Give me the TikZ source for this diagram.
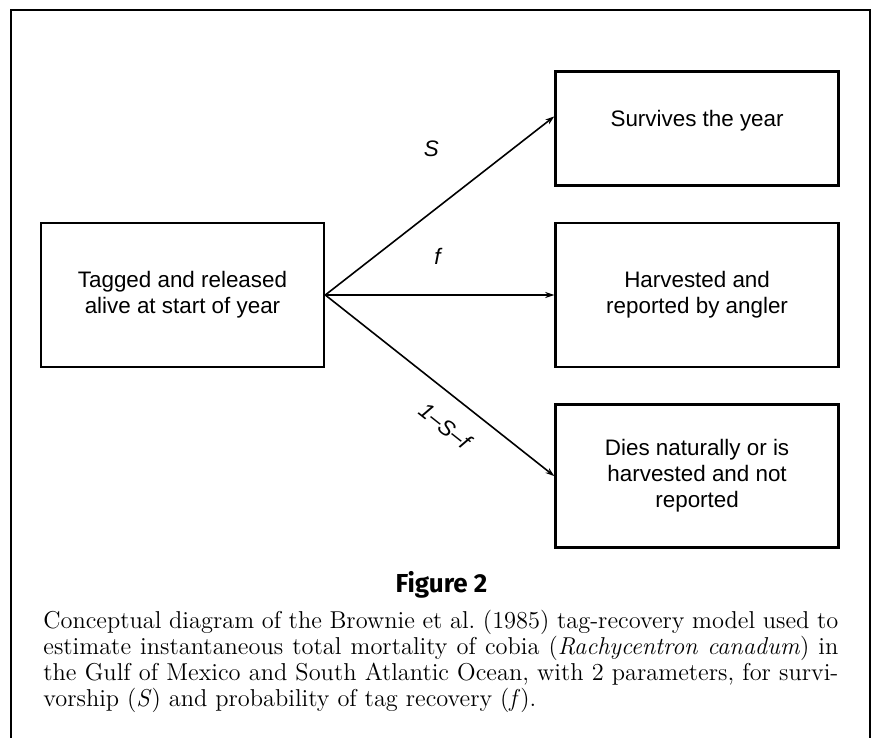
\documentclass[tikz,border=0pt]{standalone}
\usepackage{fontspec}
\newfontfamily\boxfont{Liberation Sans}
\newfontfamily\titlefont{Fira Sans}
\usepackage{tikz}
\usetikzlibrary{arrows.meta,positioning}

\begin{document}
\begin{tikzpicture}[
  x=0.5pt,y=-0.5pt,
  node distance=17.5pt and 114.5pt,
  box/.style={draw,line width=1.3pt,minimum width=141.5pt,inner sep=0pt,align=center,font=\boxfont\fontsize{11.2}{13}\selectfont},
  arr/.style={-{Stealth[length=4.5pt,width=3pt]},line width=0.8pt},
  lbl/.style={inner sep=0pt,font=\boxfont\itshape\fontsize{11.2}{13}\selectfont}
]
\useasboundingbox (0,0) rectangle (874,738);
\draw[line width=1.3pt] (11,738) -- (11,10) -- (870,10) -- (870,738);
\node[box,minimum height=72pt] (tag) at (182.5,295) {Tagged and released\\alive at start of year};
\node[box,minimum height=72pt,right=of tag] (harv) {Harvested and\\reported by angler};
\node[box,minimum height=57pt,text depth=10.3pt,above=of harv] (surv) {Survives the year};
\node[box,minimum height=71.5pt,below=of harv] (dies) {Dies naturally or is\\harvested and not\\reported};
\draw[arr] (tag.east) -- ([yshift=6pt]surv.west) node[lbl,pos=.463,above=27.5pt] (lsurv) {S};
\draw[arr] (tag.east) -- (harv.west) node[lbl,pos=.49,above=15pt] (lharv) {f};
\draw[arr] (tag.east) -- (dies.west) node[lbl,pos=.6,sloped,below=9.5pt] (ldies) {1\textendash S\textendash f};
\node[anchor=base,font=\titlefont\bfseries\fontsize{13}{15}\selectfont] (fig) at (441.5,592) {Figure 2};
\node[anchor=base west,inner sep=0pt,text width=397.5pt,align=justify,font=\fontsize{12.2}{13.15}\selectfont] (cap) at (43,628)
  {Conceptual diagram of the Brownie et al.\ (1985) tag-recovery model used to\linebreak
   estimate instantaneous total mortality of cobia (\textit{Rachycentron canadum}) in\linebreak
   the Gulf of Mexico and South Atlantic Ocean, with 2 parameters, for survi-\linebreak
   vorship (\textit{S}) and probability of tag recovery (\textit{f}).};
\end{tikzpicture}
\end{document}
